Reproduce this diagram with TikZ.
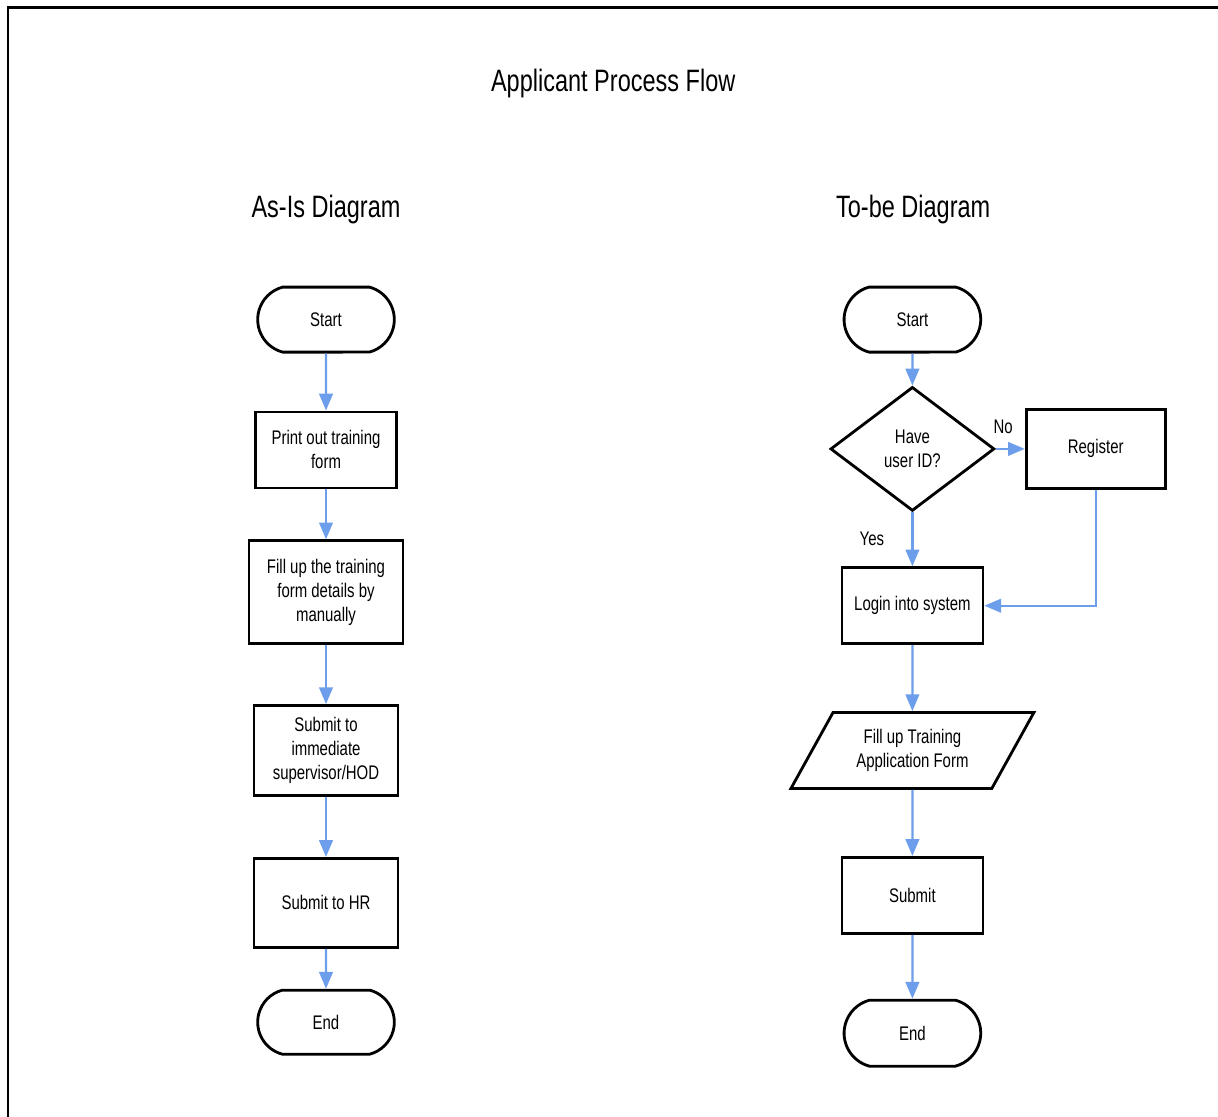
\documentclass[tikz,border=0pt]{standalone}
\usepackage{fontspec}
\setmainfont{Liberation Sans}[FakeStretch=0.76]
\usetikzlibrary{positioning,shapes.geometric,shapes.misc,arrows.meta}
\definecolor{flowblue}{HTML}{6D9EEB}
\tikzset{
    boxtext/.style={font=\fontsize{14}{17}\selectfont, align=center},
    block/.style={rectangle, draw=black, line width=2pt, boxtext},
    term/.style={rounded rectangle, rounded rectangle arc length=150, draw=black, line width=2pt, boxtext, minimum width=3.65cm, minimum height=1.625cm},
    decision/.style={diamond, draw=black, line width=2pt, boxtext, minimum width=4.1cm, minimum height=3.1cm, inner sep=0pt},
    io/.style={trapezium, trapezium left angle=58, trapezium right angle=122, trapezium stretches=true, draw=black, line width=2pt, boxtext, minimum width=6.075cm, minimum height=1.9cm},
    line/.style={-{Triangle[length=4.2mm,width=3.4mm]}, draw=flowblue, line width=1.6pt},
    heading/.style={font=\fontsize{22}{26}\selectfont},
    lbl/.style={font=\fontsize{14}{17}\selectfont},
}
\begin{document}
\begin{tikzpicture}
    \useasboundingbox (0,0) rectangle (30.45,-27.925);
    % frame
    \draw[line width=2pt] (30.45,-0.18) -- (0.2,-0.18) -- (0.2,-27.925);

    % titles
    \node[font=\fontsize{22}{26}\selectfont] (title) at (15.33,-2.08) {Applicant Process Flow};
    \node[heading] (asis) at (8.15,-5.25) {As-Is Diagram};
    \node[heading] (tobe) at (22.83,-5.25) {To-be Diagram};

    % as-is
    \node[term] (start1) at (8.15,-7.99) {Start};
    \node[block, below=1.425cm of start1, minimum width=3.525cm, minimum height=1.9cm] (print) {Print out training\\form};
    \node[block, below=1.25cm of print, minimum width=3.85cm, minimum height=2.575cm] (fill) {Fill up the training\\form details by\\manually};
    \node[block, below=1.475cm of fill, minimum width=3.6cm, minimum height=2.25cm] (superv) {Submit to\\immediate\\supervisor/HOD};
    \node[block, below=1.5cm of superv, minimum width=3.6cm, minimum height=2.225cm] (hr) {Submit to HR};
    \node[term, below=1.0cm of hr, minimum height=1.6cm] (end1) {End};

    \draw[line] (start1) -- (print);
    \draw[line] (print) -- (fill);
    \draw[line] (fill) -- (superv);
    \draw[line] (superv) -- (hr);
    \draw[line] (hr) -- (end1);

    % to-be
    \node[term] (start2) at (22.81,-7.99) {Start};
    \node[decision, below=0.8cm of start2] (haveid) {Have\\user ID?};
    \node[block, right=0.725cm of haveid, minimum width=3.475cm, minimum height=1.975cm] (register) {Register};
    \node[block, below=1.35cm of haveid, minimum width=3.525cm, minimum height=1.9cm] (login) {Login into system};
    \node[io, below=1.65cm of login] (form) {Fill up Training\\Application Form};
    \node[block, below=1.65cm of form, minimum width=3.525cm, minimum height=1.9cm] (submit) {Submit};
    \node[term, below=1.6cm of submit, minimum height=1.65cm] (end2) {End};

    \draw[line] (start2) -- (haveid);
    \draw[line] (haveid) -- node[lbl, above=7pt, pos=0.25] {No} (register);
    \draw[line] (haveid) -- node[lbl, left=16pt, pos=0.5] {Yes} (login);
    \draw[line] (register) |- (login);
    \draw[line] (login) -- (form);
    \draw[line] (form) -- (submit);
    \draw[line] (submit) -- (end2);
\end{tikzpicture}
\end{document}
